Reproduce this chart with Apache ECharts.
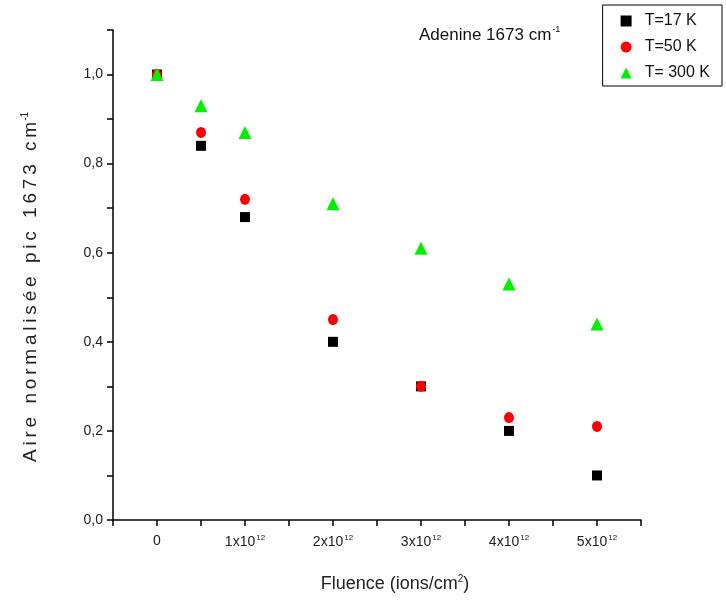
<!DOCTYPE html>
<html>
<head>
<meta charset="utf-8">
<script src="https://cdn.jsdelivr.net/npm/echarts@6/dist/echarts.min.js"></script>
<style>html,body{margin:0;padding:0;background:#fff;}#c{width:726px;height:601px;}</style>
</head>
<body>
<div id="c"></div>
<script>
// Fluence in units of 1e12 ions/cm^2
const fluence = [0, 0.5, 1, 2, 3, 4, 5];
const t17 = [1.0, 0.84, 0.68, 0.40, 0.30, 0.20, 0.10];
const t50 = [1.0, 0.87, 0.72, 0.45, 0.30, 0.23, 0.21];
const t300 = [1.0, 0.93, 0.87, 0.71, 0.61, 0.53, 0.44];
const seriesNames = ['T=17 K', 'T=50 K', 'T= 300 K'];
const xTickLabels = {0: '0', 1: '1x10', 2: '2x10', 3: '3x10', 4: '4x10', 5: '5x10'};

const FONT = "'Liberation Sans Narrow','Liberation Sans',Arial,sans-serif";
const pair = (ys) => fluence.map((x, i) => [x, ys[i]]);
const spaced = (s) => s.split(' ').map(w => w.split('').join('\u2009')).join('\u2002\u2009');

const chart = echarts.init(document.getElementById('c'), null, {renderer: 'canvas'});
chart.setOption({
  backgroundColor: '#fff',
  animation: false,
  textStyle: {fontFamily: FONT},
  title: {
    text: '{a|Adenine 1673 cm}{s|-1}',
    left: 414, top: 20,
    textStyle: {
      fontWeight: 'normal',
      rich: {
        a: {fontSize: 17, color: '#111', fontFamily: FONT, fontWeight: 'normal'},
        s: {fontSize: 9, color: '#111', fontFamily: FONT, fontWeight: 'normal', padding: [0, 0, 11, 1]}
      }
    }
  },
  legend: {
    orient: 'vertical',
    right: 4, top: 5,
    borderColor: '#000', borderWidth: 1,
    padding: [8, 12, 5, 18],
    itemGap: 10,
    itemWidth: 11, itemHeight: 11,
    textStyle: {fontSize: 16, color: '#111', fontFamily: FONT, padding: [0, 0, 0, 8]},
    data: seriesNames
  },
  grid: {left: 113, right: 85, top: 30, bottom: 81, containLabel: false},
  xAxis: {
    type: 'value', min: -0.5, max: 5.5, interval: 0.5,
    splitLine: {show: false},
    axisLine: {onZero: false, lineStyle: {color: '#000', width: 1.5}},
    axisTick: {show: true, length: 6, lineStyle: {color: '#000', width: 1.5}},
    axisLabel: {
      margin: 14,
      formatter: function (v) {
        const r = Math.round(v * 2) / 2;
        if (r < 0 || r % 1 !== 0) return '';
        if (r === 0) return '{a|0}';
        return '{a|' + xTickLabels[r] + '}{s|12}';
      },
      rich: {
        a: {fontSize: 14, color: '#222', fontFamily: FONT},
        s: {fontSize: 8, color: '#222', fontFamily: FONT, padding: [0, 0, 9, 1]}
      }
    },
    name: '{a|Fluence (ions/cm}{s|2}{a|)}',
    nameLocation: 'middle', nameGap: 54,
    nameTextStyle: {
      padding: [0, 0, 0, 36],
      rich: {
        a: {fontSize: 18, color: '#222', fontFamily: FONT},
        s: {fontSize: 10, color: '#222', fontFamily: FONT, padding: [0, 0, 10, 0]}
      }
    }
  },
  yAxis: {
    type: 'value', min: 0, max: 1.1, interval: 0.1,
    splitLine: {show: false},
    axisLine: {onZero: false, lineStyle: {color: '#000', width: 1.5}},
    axisTick: {show: true, length: 6, lineStyle: {color: '#000', width: 1.5}},
    axisLabel: {
      margin: 10, fontSize: 14, color: '#222', fontFamily: FONT,
      formatter: function (v) {
        const k = Math.round(v * 10);
        if (k % 2 !== 0) return '';
        return (k / 10).toFixed(1).replace('.', ',');
      }
    },
    name: '{a|' + spaced('Aire normalisée pic 1673 cm') + '}{s|-1}',
    nameLocation: 'middle', nameGap: 72, nameRotate: 90,
    nameTextStyle: {
      padding: [0, 24, 0, 0],
      rich: {
        a: {fontSize: 19, color: '#222', fontFamily: FONT},
        s: {fontSize: 10, color: '#222', fontFamily: FONT, padding: [0, 0, 11, 1]}
      }
    }
  },
  series: [
    {name: seriesNames[0], type: 'scatter', symbol: 'rect', symbolSize: 10,
     itemStyle: {color: '#000', opacity: 1}, data: pair(t17), z: 2},
    {name: seriesNames[1], type: 'scatter', symbol: 'circle', symbolSize: [10, 11],
     itemStyle: {color: '#ff0000', opacity: 1}, data: pair(t50), z: 3},
    {name: seriesNames[2], type: 'scatter', symbol: 'triangle', symbolSize: 13,
     itemStyle: {color: '#00f000', opacity: 1}, data: pair(t300), z: 4}
  ]
});
</script>
</body>
</html>
